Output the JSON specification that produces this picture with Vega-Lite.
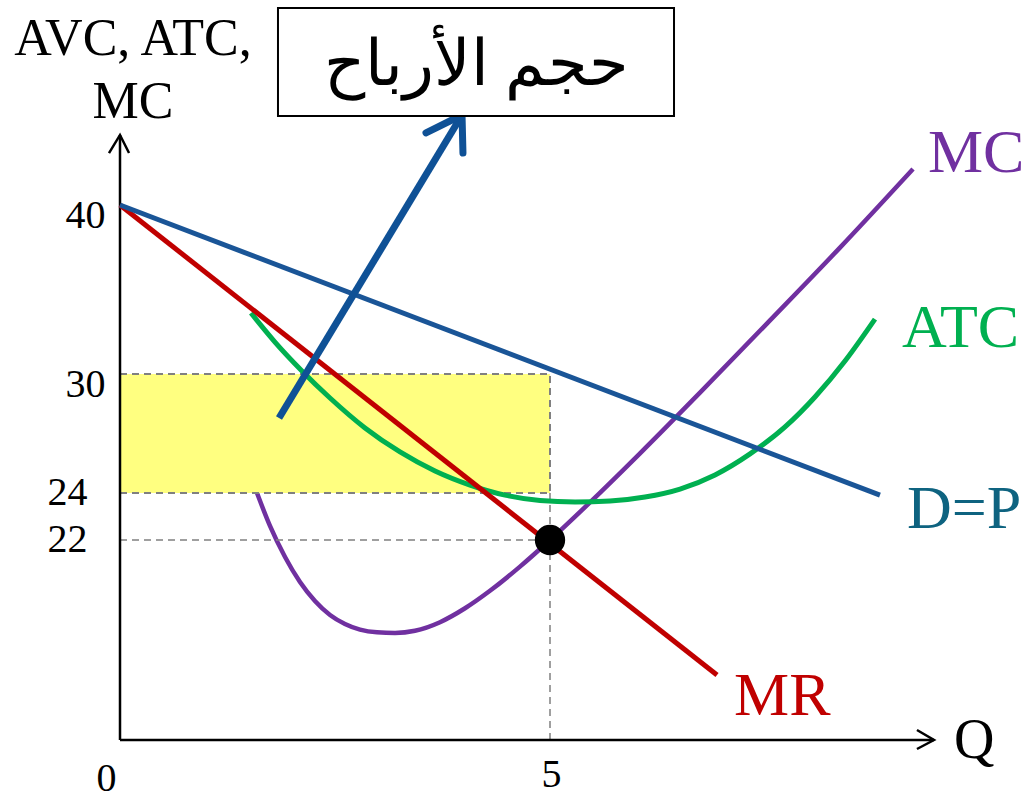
{
  "$schema": "https://vega.github.io/schema/vega-lite/v6.json",
  "width": 908,
  "height": 740,
  "padding": {"left": 120, "top": 0, "right": 0, "bottom": 60},
  "autosize": "none",
  "background": "white",
  "view": {"stroke": null},
  "datasets": {
    "curves": [
      {"curve": "MC", "Q": 1.593, "P": 24.0},
      {"curve": "MC", "Q": 1.744, "P": 22.6},
      {"curve": "MC", "Q": 1.919, "P": 20.13},
      {"curve": "MC", "Q": 2.093, "P": 17.38},
      {"curve": "MC", "Q": 2.267, "P": 15.29},
      {"curve": "MC", "Q": 2.442, "P": 13.75},
      {"curve": "MC", "Q": 2.616, "P": 12.76},
      {"curve": "MC", "Q": 2.791, "P": 12.14},
      {"curve": "MC", "Q": 2.988, "P": 11.84},
      {"curve": "MC", "Q": 3.198, "P": 11.77},
      {"curve": "MC", "Q": 3.43, "P": 12.01},
      {"curve": "MC", "Q": 3.721, "P": 12.96},
      {"curve": "MC", "Q": 4.012, "P": 14.49},
      {"curve": "MC", "Q": 4.302, "P": 16.41},
      {"curve": "MC", "Q": 4.651, "P": 19.07},
      {"curve": "MC", "Q": 5.0, "P": 22.0},
      {"curve": "MC", "Q": 5.465, "P": 23.6},
      {"curve": "MC", "Q": 6.047, "P": 26.0},
      {"curve": "MC", "Q": 6.744, "P": 29.06},
      {"curve": "MC", "Q": 7.558, "P": 33.17},
      {"curve": "MC", "Q": 8.372, "P": 37.48},
      {"curve": "MC", "Q": 9.221, "P": 42.13},
      {"curve": "ATC", "Q": 1.523, "P": 33.61},
      {"curve": "ATC", "Q": 1.802, "P": 31.89},
      {"curve": "ATC", "Q": 2.116, "P": 30.18},
      {"curve": "ATC", "Q": 2.442, "P": 28.79},
      {"curve": "ATC", "Q": 2.849, "P": 27.28},
      {"curve": "ATC", "Q": 3.256, "P": 26.07},
      {"curve": "ATC", "Q": 3.663, "P": 25.11},
      {"curve": "ATC", "Q": 4.07, "P": 24.4},
      {"curve": "ATC", "Q": 4.477, "P": 23.91},
      {"curve": "ATC", "Q": 4.884, "P": 23.68},
      {"curve": "ATC", "Q": 5.291, "P": 23.62},
      {"curve": "ATC", "Q": 5.698, "P": 23.66},
      {"curve": "ATC", "Q": 6.105, "P": 23.83},
      {"curve": "ATC", "Q": 6.512, "P": 24.2},
      {"curve": "ATC", "Q": 6.919, "P": 24.91},
      {"curve": "ATC", "Q": 7.326, "P": 25.97},
      {"curve": "ATC", "Q": 7.733, "P": 27.33},
      {"curve": "ATC", "Q": 8.081, "P": 28.84},
      {"curve": "ATC", "Q": 8.43, "P": 30.77},
      {"curve": "ATC", "Q": 8.779, "P": 33.25},
      {"curve": "MR", "Q": 0, "P": 40},
      {"curve": "MR", "Q": 6.942, "P": 7.15},
      {"curve": "DP", "Q": 0, "P": 40},
      {"curve": "DP", "Q": 8.837, "P": 23.91},
      {"curve": "shaft", "Q": 1.849, "P": 27.78},
      {"curve": "shaft", "Q": 3.977, "P": 45.32},
      {"curve": "head", "Q": 3.558, "P": 44.26, "i": 0},
      {"curve": "head", "Q": 3.977, "P": 45.32, "i": 1},
      {"curve": "head", "Q": 3.988, "P": 43.07, "i": 2},
      {"curve": "yArrow", "Q": -0.128, "P": 43.07, "i": 0},
      {"curve": "yArrow", "Q": 0, "P": 44.14, "i": 1},
      {"curve": "yArrow", "Q": 0.105, "P": 43.07, "i": 2},
      {"curve": "xArrow", "Q": 9.267, "P": 1.1, "i": 0},
      {"curve": "xArrow", "Q": 9.465, "P": 0, "i": 1},
      {"curve": "xArrow", "Q": 9.267, "P": -0.99, "i": 2}
    ],
    "rules": [
      {"kind": "guide", "Q": 0, "Q2": 5, "P": 22, "P2": 22},
      {"kind": "guide", "Q": 5, "Q2": 5, "P": 0, "P2": 24},
      {"kind": "axis", "Q": 0, "Q2": 0, "P": 0, "P2": 44.14},
      {"kind": "axis", "Q": 0, "Q2": 9.465, "P": 0, "P2": 0}
    ],
    "boxes": [
      {"kind": "profit", "Q": 0, "Q2": 5, "P": 24, "P2": 30},
      {"kind": "note", "Q": 1.837, "Q2": 6.442, "P": 45.26, "P2": 51.64}
    ],
    "texts": [
      {"role": "title", "label": "AVC, ATC,", "Q": 0.151, "P": 48.87},
      {"role": "title", "label": "MC", "Q": 0.151, "P": 45.14},
      {"role": "note", "label": "حجم الأرباح", "Q": 4.14, "P": 48.22},
      {"role": "curve", "label": "MC", "Q": 9.395, "P": 41.95},
      {"role": "curve", "label": "ATC", "Q": 9.093, "P": 31.6},
      {"role": "curve", "label": "D=P", "Q": 9.151, "P": 22.51},
      {"role": "curve", "label": "MR", "Q": 7.14, "P": 2.75},
      {"role": "axisq", "label": "Q", "Q": 9.698, "P": -1.98}
    ]
  },
  "encoding": {
    "x": {
      "field": "Q", "type": "quantitative",
      "scale": {"domain": [0, 10], "range": [0, 860], "nice": false, "zero": false},
      "axis": {
        "values": [0, 5], "domain": false, "ticks": false, "grid": false, "title": null,
        "labelFont": "Liberation Serif", "labelFontSize": 40, "labelColor": "black",
        "labelBaseline": "alphabetic", "labelFlush": false, "labelOverlap": false, "labelBound": false,
        "labelPadding": {"condition": {"test": "datum.value == 0", "value": 50}, "value": 46},
        "labelOffset": {"condition": {"test": "datum.value == 0", "value": -14}, "value": 1}
      }
    },
    "y": {
      "field": "P", "type": "quantitative",
      "scale": {"domain": [0, 22, 24, 30, 40, 52], "range": [740, 540, 493, 374, 205, 2], "nice": false, "zero": false},
      "axis": {
        "values": [22, 24, 30, 40], "domain": false, "ticks": false, "grid": false, "title": null,
        "labelFont": "Liberation Serif", "labelFontSize": 40, "labelColor": "black",
        "labelOverlap": false, "labelBound": false, "labelFlush": false,
        "labelPadding": {"condition": {"test": "datum.value < 25", "value": 33}, "value": 15},
        "labelOffset": {"condition": {"test": "datum.value > 25", "value": 10}, "value": -1}
      }
    }
  },
  "layer": [
    {
      "data": {"name": "curves"},
      "transform": [{"filter": "datum.curve === 'MC'"}],
      "mark": {"type": "line", "color": "#7030a0", "strokeWidth": 4.5, "interpolate": "monotone"}
    },
    {
      "data": {"name": "boxes"},
      "transform": [{"filter": "datum.kind === 'profit'"}],
      "mark": {"type": "rect", "fill": "#ffff80", "stroke": "#808080", "strokeWidth": 2, "strokeDash": [7, 5]},
      "encoding": {"x2": {"field": "Q2"}, "y2": {"field": "P2"}}
    },
    {
      "data": {"name": "rules"},
      "transform": [{"filter": "datum.kind === 'guide'"}],
      "mark": {"type": "rule", "color": "#808080", "strokeWidth": 1.5, "strokeDash": [7, 5]},
      "encoding": {"x2": {"field": "Q2"}, "y2": {"field": "P2"}}
    },
    {
      "data": {"name": "rules"},
      "transform": [{"filter": "datum.kind === 'axis'"}],
      "mark": {"type": "rule", "color": "black", "strokeWidth": 2.5},
      "encoding": {"x2": {"field": "Q2"}, "y2": {"field": "P2"}}
    },
    {
      "data": {"name": "curves"},
      "transform": [{"filter": "datum.curve === 'yArrow' || datum.curve === 'xArrow'"}],
      "mark": {"type": "line", "color": "black", "strokeWidth": 2.5, "strokeJoin": "miter"},
      "encoding": {"detail": {"field": "curve"}, "order": {"field": "i"}}
    },
    {
      "data": {"name": "curves"},
      "transform": [{"filter": "datum.curve === 'ATC'"}],
      "mark": {"type": "line", "color": "#00b050", "strokeWidth": 5, "interpolate": "monotone"}
    },
    {
      "data": {"name": "curves"},
      "transform": [{"filter": "datum.curve === 'MR'"}],
      "mark": {"type": "line", "color": "#c00000", "strokeWidth": 5}
    },
    {
      "data": {"name": "curves"},
      "transform": [{"filter": "datum.curve === 'DP'"}],
      "mark": {"type": "line", "color": "#1a5597", "strokeWidth": 5}
    },
    {
      "data": {"name": "curves"},
      "transform": [{"filter": "datum.curve === 'shaft'"}],
      "mark": {"type": "line", "color": "#0f5196", "strokeWidth": 7}
    },
    {
      "data": {"name": "curves"},
      "transform": [{"filter": "datum.curve === 'head'"}],
      "mark": {"type": "line", "color": "#0f5196", "strokeWidth": 7, "strokeJoin": "round", "strokeCap": "round"},
      "encoding": {"order": {"field": "i"}}
    },
    {
      "data": {"values": [{"Q": 5, "P": 22}]},
      "mark": {"type": "point", "shape": "circle", "filled": true, "color": "black", "size": 920, "opacity": 1}
    },
    {
      "data": {"name": "boxes"},
      "transform": [{"filter": "datum.kind === 'note'"}],
      "mark": {"type": "rect", "fill": "white", "stroke": "black", "strokeWidth": 2},
      "encoding": {"x2": {"field": "Q2"}, "y2": {"field": "P2"}}
    },
    {
      "data": {"name": "texts"},
      "transform": [{"filter": "datum.role === 'title'"}],
      "mark": {"type": "text", "font": "Liberation Serif", "fontSize": 52, "align": "center", "baseline": "alphabetic", "color": "black"},
      "encoding": {"text": {"field": "label"}}
    },
    {
      "data": {"name": "texts"},
      "transform": [{"filter": "datum.role === 'note'"}],
      "mark": {"type": "text", "font": "Liberation Serif", "fontSize": 64, "align": "center", "baseline": "middle", "color": "black"},
      "encoding": {"text": {"field": "label"}}
    },
    {
      "data": {"name": "texts"},
      "transform": [{"filter": "datum.role === 'curve'"}],
      "mark": {"type": "text", "font": "Liberation Serif", "fontSize": 62, "align": "left", "baseline": "alphabetic"},
      "encoding": {
        "text": {"field": "label"},
        "color": {"field": "label", "type": "nominal", "legend": null,
          "scale": {"domain": ["MC", "ATC", "D=P", "MR"], "range": ["#7030a0", "#00b050", "#0e6380", "#c00000"]}}
      }
    },
    {
      "data": {"name": "texts"},
      "transform": [{"filter": "datum.role === 'axisq'"}],
      "mark": {"type": "text", "font": "Liberation Serif", "fontSize": 56, "align": "left", "baseline": "alphabetic", "color": "black"},
      "encoding": {"text": {"field": "label"}}
    }
  ]
}
